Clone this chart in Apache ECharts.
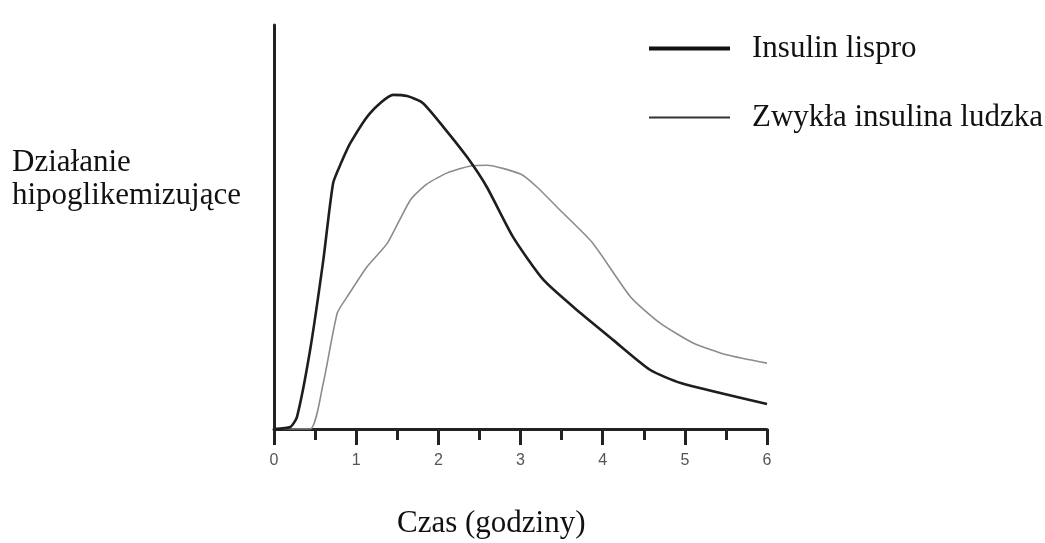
<!DOCTYPE html>
<html>
<head>
<meta charset="utf-8">
<script src="https://cdn.jsdelivr.net/npm/echarts@6/dist/echarts.min.js"></script>
<style>
  html, body { margin: 0; padding: 0; background: #fff; }
  #chart { width: 1045px; height: 543px; }
</style>
</head>
<body>
<div id="chart"></div>
<script>
// czas w godzinach / działanie (jednostki względne, 0-100)
const lisproHours = [0, 0.2, 0.28, 0.44, 0.6, 0.72, 0.82, 0.93, 1.17, 1.45, 1.62, 1.81, 2.06, 2.35, 2.59, 2.91, 3.28, 3.73, 4.13, 4.58, 4.95, 6.0]
const lisproEffect = [0, 0.5, 3, 19.6, 41.8, 60.9, 66.0, 70.8, 78.2, 82.7, 82.4, 80.7, 74.8, 67.3, 59.9, 47.5, 36.9, 28.7, 22.0, 14.6, 11.4, 6.2]

const humanHours = [0, 0.44, 0.6, 0.77, 0.89, 1.13, 1.38, 1.66, 1.86, 2.11, 2.39, 2.59, 3.0, 3.2, 3.48, 3.88, 4.34, 4.7, 5.1, 5.52, 6.0]
const humanEffect = [0, 0, 11.4, 28.7, 32.7, 40.1, 46.0, 56.7, 60.6, 63.4, 65.1, 65.3, 63.1, 59.9, 54.2, 46.0, 32.7, 26.2, 21.3, 18.3, 16.3]

const xTicks = [0, 1, 2, 3, 4, 5, 6]
const seriesNames = ['Insulin lispro', 'Zwykła insulina ludzka']
const yTitle = 'Działanie\nhipoglikemizujące'
const xTitle = 'Czas (godziny)'

const serif = '"Liberation Serif", "Times New Roman", serif'
const chart = echarts.init(document.getElementById('chart'))

chart.setOption({
  animation: false,
  grid: { left: 274, right: 278, top: 25, bottom: 114 },
  xAxis: {
    type: 'value',
    min: xTicks[0],
    max: xTicks[xTicks.length - 1],
    interval: 1,
    splitLine: { show: false },
    axisLine: { lineStyle: { color: '#222', width: 3 } },
    axisTick: { show: true, length: 16, lineStyle: { color: '#222', width: 3 } },
    minorTick: { show: true, splitNumber: 2, length: 11, lineStyle: { color: '#222', width: 3 } },
    axisLabel: {
      margin: 24,
      color: '#555',
      fontSize: 16,
      fontFamily: 'Liberation Sans, Arial, sans-serif',
    },
  },
  yAxis: {
    type: 'value',
    min: 0,
    max: 100,
    splitLine: { show: false },
    axisLine: { show: true, lineStyle: { color: '#222', width: 3 } },
    axisTick: { show: false },
    axisLabel: { show: false },
  },
  legend: {
    orient: 'vertical',
    left: 647,
    top: 33,
    padding: 0,
    itemWidth: 81,
    itemHeight: 14,
    itemGap: 38,
    textStyle: { fontFamily: serif, fontSize: 31, color: '#111', padding: [0, 0, 0, 17] },
    data: [
      {
        name: seriesNames[0],
        itemStyle: { color: 'rgba(0,0,0,0)', borderWidth: 0 },
        lineStyle: { color: '#111', width: 4 },
      },
      {
        name: seriesNames[1],
        itemStyle: { color: 'rgba(0,0,0,0)', borderWidth: 0 },
        lineStyle: { color: '#333', width: 2 },
      },
    ],
  },
  graphic: [
    {
      type: 'text',
      left: 12,
      top: 146,
      style: { text: yTitle, font: '31px ' + serif, fill: '#111', lineHeight: 33 },
    },
    {
      type: 'text',
      left: 397,
      top: 508,
      style: { text: xTitle, font: '31px ' + serif, fill: '#111' },
    },
  ],
  series: [
    {
      name: seriesNames[0],
      type: 'line',
      data: lisproHours.map((h, i) => [h, lisproEffect[i]]),
      showSymbol: false,
      symbol: 'none',
      smooth: 0.2,
      lineStyle: { color: '#1e1e1e', width: 2.6 },
      itemStyle: { color: '#1e1e1e' },
      z: 3,
    },
    {
      name: seriesNames[1],
      type: 'line',
      data: humanHours.map((h, i) => [h, humanEffect[i]]),
      showSymbol: false,
      symbol: 'none',
      smooth: 0.2,
      lineStyle: { color: '#8c8c8c', width: 1.6 },
      itemStyle: { color: '#8c8c8c' },
      z: 2,
    },
  ],
})
</script>
</body>
</html>
